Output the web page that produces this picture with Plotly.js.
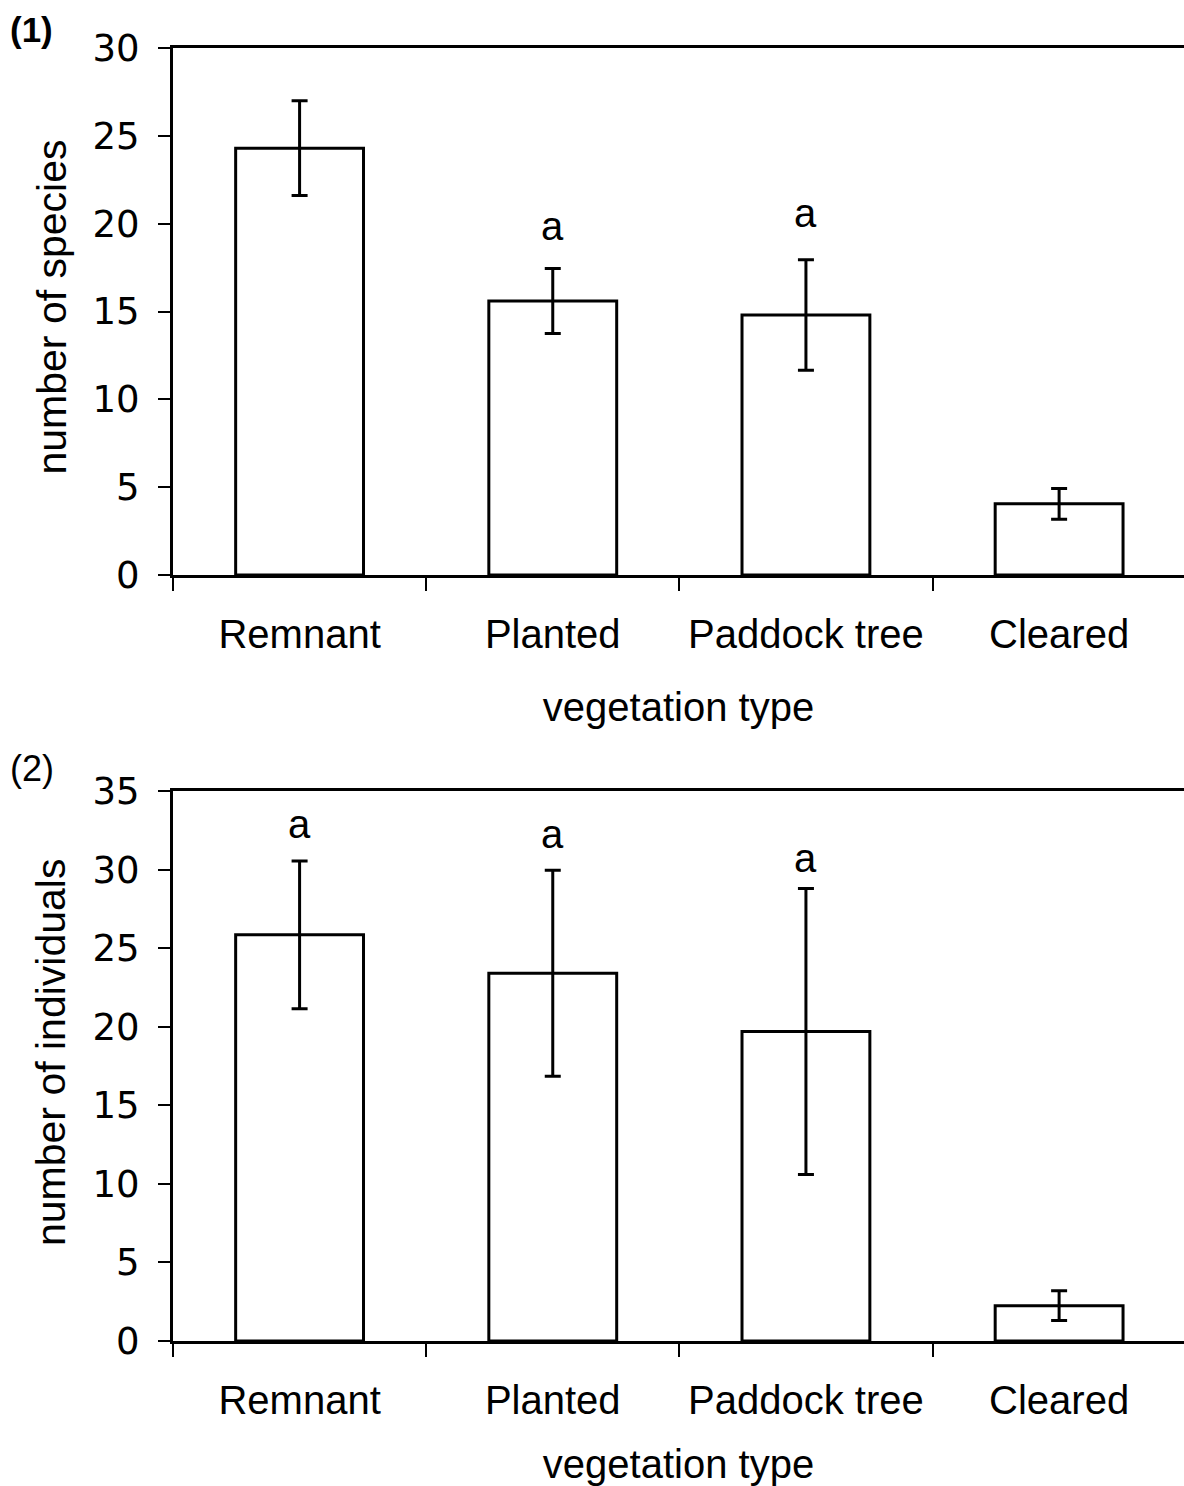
<!DOCTYPE html>
<html><head><meta charset="utf-8">
<script src="https://cdn.plot.ly/plotly-3.0.1.min.js"></script>
<style>html,body{margin:0;padding:0;background:#fff;overflow:hidden}</style>
</head><body><div id="chart" style="width:1184px;height:1486px"></div>
<script>
const categories = ['Remnant', 'Planted', 'Paddock tree', 'Cleared'];
const speciesMean = [24.3, 15.6, 14.8, 4.05];
const speciesErr = [2.7, 1.85, 3.15, 0.88];
const individualsMean = [25.85, 23.4, 19.7, 2.25];
const individualsErr = [4.7, 6.55, 9.1, 0.95];
const speciesLetters = ['', 'a', 'a', ''];
const speciesLetterY = [null, 19.72, 20.44, null];
const individualsLetters = ['a', 'a', 'a', ''];
const individualsLetterY = [32.71, 32.07, 30.55, null];
const yTitles = ['number of species', 'number of individuals'];
const xTitle = 'vegetation type';
const panelLabels = ['(1)', '(2)'];

const W = 1184, H = 1486, ML = 173, MT = 48, MB = 145;
const plotH = H - MT - MB, plotW = W - ML;
const px2x = p => (p - ML) / plotW;
const py2y = p => (H - MB - p) / plotH;

const barStyle = {color: '#ffffff', line: {color: '#000000', width: 3}};
const errStyle = (arr) => ({type: 'data', array: arr, visible: true, color: '#000000', thickness: 3, width: 8});

const traces = [
  {type: 'bar', x: categories, y: speciesMean, width: 0.505, marker: barStyle,
   error_y: errStyle(speciesErr), xaxis: 'x', yaxis: 'y', hoverinfo: 'skip'},
  {type: 'bar', x: categories, y: individualsMean, width: 0.505, marker: barStyle,
   error_y: errStyle(individualsErr), xaxis: 'x2', yaxis: 'y2', hoverinfo: 'skip'}
];

const arial = 'Liberation Sans, Arial, sans-serif';
const xTickFont = {family: arial, size: 40, color: '#000'};
const yTickFont = {family: 'DejaVu Sans, sans-serif', size: 37, color: '#000'};

function xAxis(anchor) {
  return {
    anchor: anchor, domain: [0, 1], type: 'category', range: [-0.5, 3.4933],
    showline: true, linecolor: '#000', linewidth: 3, mirror: true,
    ticks: 'outside', tickson: 'boundaries', ticklen: 13, tickwidth: 2, tickcolor: '#000',
    ticklabelstandoff: 22, tickfont: xTickFont, showgrid: false, zeroline: false,
    title: {text: xTitle, font: {family: arial, size: 40, color: '#000'}, standoff: 38}
  };
}
function yAxis(anchor, domain, max) {
  return {
    anchor: anchor, domain: domain, range: [0, max], dtick: 5, tick0: 0,
    showline: true, linecolor: '#000', linewidth: 3, mirror: false,
    ticks: 'outside', ticklen: 12, tickwidth: 2, tickcolor: '#000',
    ticklabelstandoff: 11, tickfont: yTickFont, showgrid: false, zeroline: false
  };
}

const annotations = [];
function addLetters(letters, ys, xref, yref) {
  letters.forEach((t, i) => {
    if (!t) return;
    annotations.push({text: t, x: categories[i], y: ys[i], xref: xref, yref: yref,
      showarrow: false, xanchor: 'center', yanchor: 'middle', yshift: 3,
      font: {family: arial, size: 40, color: '#000'}});
  });
}
addLetters(speciesLetters, speciesLetterY, 'x', 'y');
addLetters(individualsLetters, individualsLetterY, 'x2', 'y2');

[[yTitles[0], 307.5], [yTitles[1], 1053]].forEach(([t, cy]) => {
  annotations.push({text: t, x: px2x(51), y: py2y(cy), xref: 'paper', yref: 'paper',
    textangle: -90, showarrow: false, xanchor: 'center', yanchor: 'middle',
    font: {family: arial, size: 41, color: '#000'}});
});
annotations.push({text: '<b>' + panelLabels[0] + '</b>', x: px2x(8), y: py2y(8), xref: 'paper', yref: 'paper',
  showarrow: false, xanchor: 'left', yanchor: 'top', font: {family: arial, size: 35, color: '#000'}});
annotations.push({text: panelLabels[1], x: px2x(8), y: py2y(746), xref: 'paper', yref: 'paper',
  showarrow: false, xanchor: 'left', yanchor: 'top', font: {family: arial, size: 36, color: '#000'}});

const layout = {
  width: W, height: H,
  margin: {l: ML, r: 0, t: MT, b: MB, pad: 0},
  paper_bgcolor: '#fff', plot_bgcolor: '#fff',
  showlegend: false,
  xaxis: xAxis('y'),
  yaxis: yAxis('x', [py2y(575), 1], 30),
  xaxis2: xAxis('y2'),
  yaxis2: yAxis('x2', [0, py2y(791)], 35),
  annotations: annotations
};

Plotly.newPlot('chart', traces, layout, {staticPlot: true, displayModeBar: false});
</script></body></html>
